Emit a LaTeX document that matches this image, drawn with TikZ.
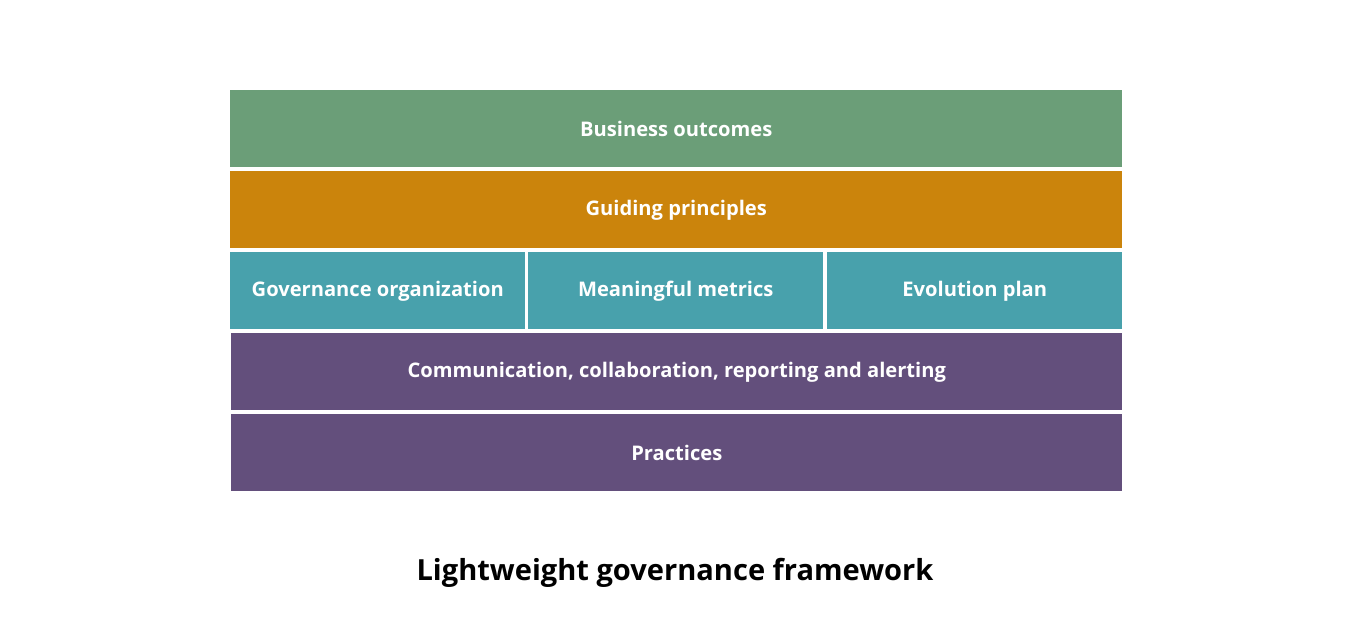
\documentclass[tikz,border=0pt]{standalone}
\usepackage{fontspec}
\setmainfont{Open Sans}
\definecolor{outgreen}{RGB}{107,158,120}
\definecolor{prinorange}{RGB}{203,132,12}
\definecolor{pillarteal}{RGB}{72,161,172}
\definecolor{basepurple}{RGB}{99,79,124}
\tikzset{
  layer/.style={anchor=north west, inner sep=0pt, minimum height=77*0.75pt,
    text=white, font=\fontsize{15.1}{18}\selectfont\bfseries},
  wide/.style={layer, minimum width=892*0.75pt},
  pillar/.style={layer, fill=pillarteal, minimum width=295*0.75pt}
}
\begin{document}
\begin{tikzpicture}[x=0.75pt,y=-0.75pt]
  \useasboundingbox (0,0) rectangle (1347,629);
  \node (outcomes)   [wide, fill=outgreen]   at (230,90)  {Business outcomes};
  \node (principles) [wide, fill=prinorange] at (230,171) {Guiding principles};
  \node (org)     [pillar] at (230,252) {Governance organization};
  \node (metrics) [pillar] at (528,252) {Meaningful metrics};
  \node (plan)    [pillar] at (827,252) {Evolution plan};
  \node (comms)     [wide, fill=basepurple, minimum width=891*0.75pt] at (231,333) {Communication, collaboration, reporting and alerting};
  \node (practices) [wide, fill=basepurple, minimum width=891*0.75pt] at (231,414) {Practices};

  \node (title) at (675,573) {\fontsize{21.8}{26}\selectfont\bfseries Lightweight governance framework};
\end{tikzpicture}
\end{document}
